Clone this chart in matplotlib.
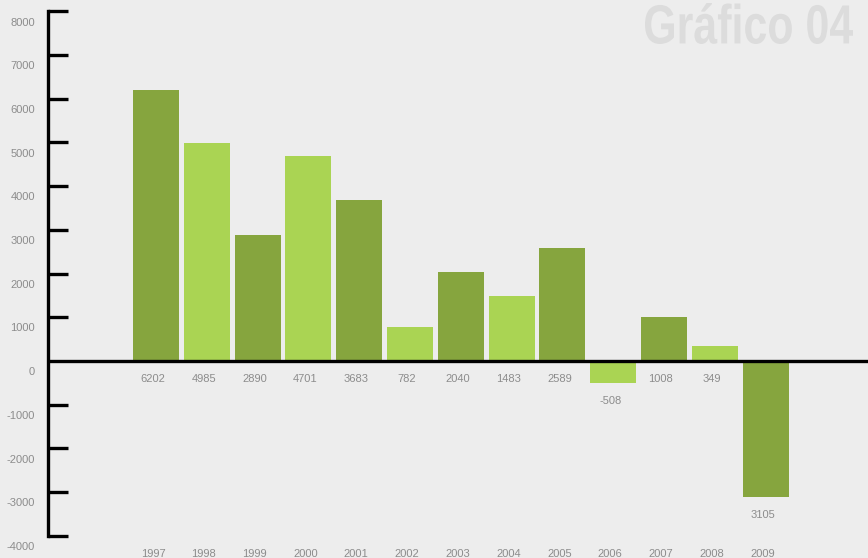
import matplotlib.pyplot as plt
from matplotlib.transforms import offset_copy, Affine2D, IdentityTransform
from matplotlib.textpath import TextPath
from matplotlib.patches import PathPatch
from matplotlib.font_manager import FontProperties

years = ["1997", "1998", "1999", "2000", "2001", "2002", "2003",
         "2004", "2005", "2006", "2007", "2008", "2009"]
values = [6202, 4985, 2890, 4701, 3683, 782, 2040, 1483, 2589, -508, 1008, 349, -3105]
value_labels = ["6202", "4985", "2890", "4701", "3683", "782", "2040",
                "1483", "2589", "-508", "1008", "349", "3105"]
y_ticks = [8000, 7000, 6000, 5000, 4000, 3000, 2000, 1000, 0, -1000, -2000, -3000, -4000]

dark = "#86a53e"
light = "#aad453"
bg = "#ededed"
txt = "#8c8c8c"

plt.rcParams['font.family'] = ['Liberation Sans', 'DejaVu Sans']

W, H = 868, 558
fig = plt.figure(figsize=(W / 100, H / 100), dpi=100, facecolor=bg)
ax = fig.add_axes([0, 0, 1, 1], facecolor=bg)

# pixel geometry
step = 50.8          # px between bars
first_center = 156   # px
zero_y = 361         # px
per_unit = 0.0437    # px per unit value

x0 = -first_center / step
ax.set_xlim(x0, x0 + W / step)
ax.set_ylim(-(H - zero_y) / per_unit, zero_y / per_unit)
ax.axis('off')

colors = [dark if i % 2 == 0 else light for i in range(len(values))]
xs = list(range(len(values)))
ax.bar(xs, values, width=46 / step, color=colors, zorder=2)

# zero baseline
ax.plot([48 / W, 1], [0, 0], color="black", lw=2.4, zorder=3,
        transform=ax.get_yaxis_transform(), solid_capstyle='butt')

# y axis line and ticks
ax.plot([48 / W, 48 / W], [8000, -4000], color="black", lw=2.4, zorder=3,
        transform=ax.get_yaxis_transform(), solid_capstyle='projecting')
for t in y_ticks:
    if t == 0:
        continue
    ax.plot([48 / W, 68 / W], [t, t], color="black", lw=2.4, zorder=3,
            transform=ax.get_yaxis_transform(), solid_capstyle='butt')

lab_tr = offset_copy(ax.get_yaxis_transform(), fig=fig, y=-8, units='points')
for t in y_ticks:
    ax.text(35 / W, t, str(t), transform=lab_tr, ha='right', va='center',
            fontsize=8, color=txt)

# value labels under bars / baseline
val_tr = offset_copy(ax.transData, fig=fig, y=-13, units='points')
for x, v, s in zip(xs, values, value_labels):
    base = min(v, 0)
    ax.text(x - 0.06, base, s, transform=val_tr, ha='center', va='center',
            fontsize=8, color=txt)

# year labels at the bottom
yr_tr = ax.get_xaxis_transform()
for x, yr in zip(xs, years):
    ax.text(x - 0.06, 4 / H, yr, transform=yr_tr, ha='center', va='center',
            fontsize=8, color=txt)

# condensed bold title: squeeze a text path into the box it fills in the reference
tp = TextPath((0, 0), "Gráfico 04", size=40,
              prop=FontProperties(family='Liberation Sans', weight='bold'))
ext = tp.get_extents()
left, right, top, bottom = 645, 853, 3, 44
sx = (right - left) / ext.width
sy = (bottom - top) / ext.height
tr = (Affine2D().translate(-ext.x0, -ext.y0).scale(sx, sy)
      .translate(left, H - bottom))
fig.add_artist(PathPatch(tp, transform=tr + IdentityTransform(),
                         facecolor="#dcdcdc", edgecolor="none"))

fig.savefig("out.png", dpi=100, facecolor=bg)
